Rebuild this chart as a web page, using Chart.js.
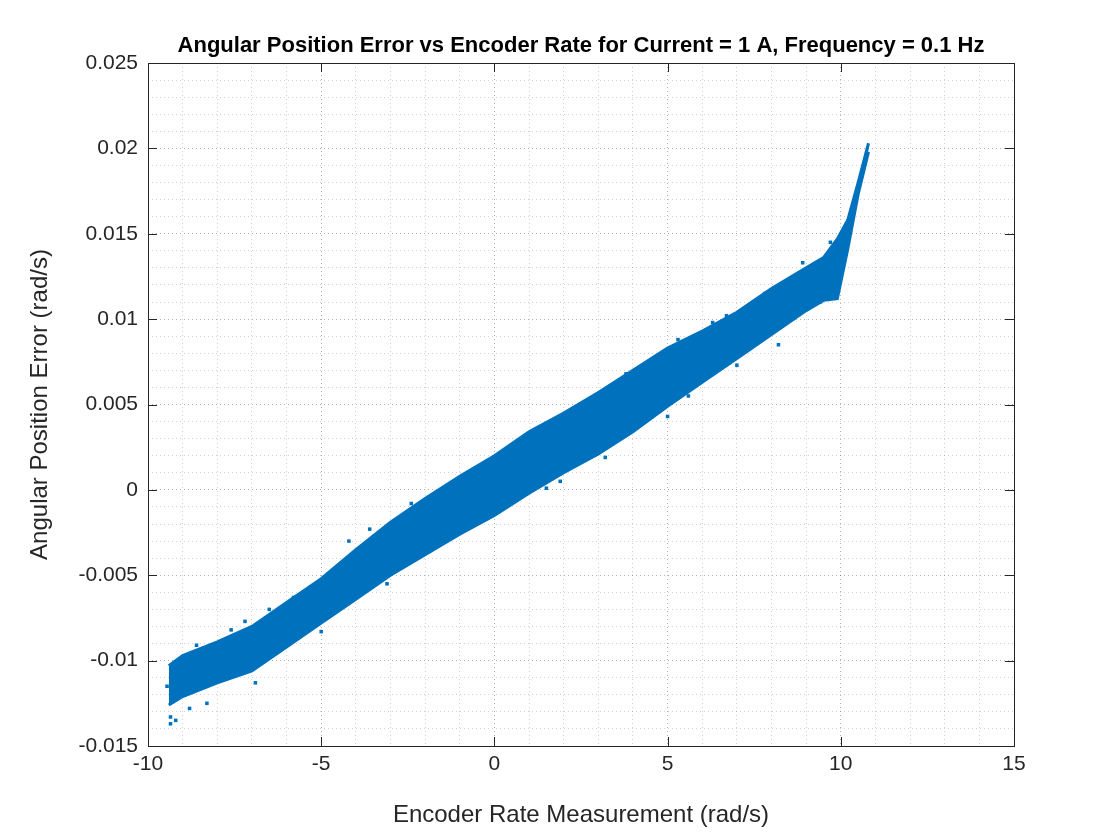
<!DOCTYPE html>
<html><head><meta charset="utf-8">
<script src="https://cdn.jsdelivr.net/npm/chart.js@4"></script>
<style>html,body{margin:0;background:#fff}#w{width:1120px;height:840px}</style>
</head><body><div id="w"><canvas id="c"></canvas></div>
<script>
const bandX = [-9.4,-9,-8,-7,-6,-5,-4,-3,-2,-1,0,1,2,3,4,5,6,7,8,9,9.5,9.9,10.2,10.5,10.8];
const bandUpper = [-0.0103,-0.0097,-0.0089,-0.0080,-0.0066,-0.0052,-0.0035,-0.0019,-0.0005,0.0008,0.0020,0.0034,0.0045,0.0057,0.0070,0.0083,0.0093,0.0104,0.0118,0.0130,0.0136,0.0147,0.0158,0.0180,0.0203];
const bandLower = [-0.0126,-0.0121,-0.0113,-0.0106,-0.0092,-0.0078,-0.0064,-0.0050,-0.0038,-0.0026,-0.0015,-0.0002,0.0010,0.0021,0.0034,0.0049,0.0063,0.0077,0.0091,0.0105,0.0111,0.0112,0.0141,0.0173,0.0198];
const outX = [-9.35,-9.2,-9.35,-8.8,-8.3,-5.0,-1.7,1.5,3.2,5.0,5.6,7.0,8.2,9.4,-6.5,2.5,4.6,8.5,-9.45,-7.6,-4.2,0.4,6.3,9.7,-8.6,-7.2,-5.8,-3.6,-2.4,-0.6,0.9,2.1,3.8,5.3,6.7,7.8,8.9,-6.9,-3.1,1.9];
const outY = [-0.0133,-0.0135,-0.0137,-0.0128,-0.0125,-0.0083,-0.0031,0.0001,0.0019,0.0043,0.0055,0.0073,0.0085,0.0110,-0.0070,0.0050,0.0077,0.0122,-0.0115,-0.0082,-0.0030,0.0021,0.0098,0.0145,-0.0091,-0.0077,-0.0063,-0.0023,-0.0008,0.0012,0.0027,0.0041,0.0068,0.0088,0.0102,0.0115,0.0133,-0.0113,-0.0055,0.0005];
const xTicks = [-10,-5,0,5,10,15];
const yTicks = [-0.015,-0.01,-0.005,0,0.005,0.01,0.015,0.02,0.025];
const titleText = 'Angular Position Error vs Encoder Rate for Current = 1 A, Frequency = 0.1 Hz';
const xLabel = 'Encoder Rate Measurement (rad/s)';
const yLabel = 'Angular Position Error (rad/s)';
const C = '#0072BD';
const pts = (xs, ys) => xs.map((x,i)=>({x, y: ys[i]}));
const isMajX = v => Math.abs(v/5 - Math.round(v/5)) < 1e-6;
const isMajY = v => Math.abs(v/0.005 - Math.round(v/0.005)) < 1e-6;
const fmtY = v => { const r = Math.round(v*1000)/1000; return r===0?'0':String(r); };
const frame = {
  id:'frame',
  afterDraw(ch){
    const {ctx, chartArea:a} = ch;
    ctx.save();
    ctx.strokeStyle='#262626'; ctx.lineWidth=1;
    ctx.strokeRect(a.left+0.5,a.top+0.5,a.right-a.left,a.bottom-a.top);
    const xs=ch.scales.x, ys=ch.scales.y;
    ctx.beginPath();
    xTicks.forEach(v=>{const p=Math.round(xs.getPixelForValue(v))+0.5;
      ctx.moveTo(p,a.bottom);ctx.lineTo(p,a.bottom-9);ctx.moveTo(p,a.top);ctx.lineTo(p,a.top+9);});
    yTicks.forEach(v=>{const p=Math.round(ys.getPixelForValue(v))+0.5;
      ctx.moveTo(a.left,p);ctx.lineTo(a.left+9,p);ctx.moveTo(a.right,p);ctx.lineTo(a.right-9,p);});
    ctx.stroke();
    ctx.fillStyle='#000'; ctx.font='bold 22px "Liberation Sans", Arial';
    ctx.textAlign='center'; ctx.textBaseline='alphabetic';
    ctx.fillText(titleText,(a.left+a.right)/2,52);
    ctx.restore();
  }
};
const F = '"Liberation Sans", Arial';
new Chart(document.getElementById('c'),{
  type:'scatter',
  data:{datasets:[
    {type:'line',data:pts(bandX,bandLower),borderColor:C,borderWidth:3,pointRadius:0,fill:false,tension:0},
    {type:'line',data:pts(bandX,bandUpper),borderColor:C,borderWidth:3,pointRadius:0,backgroundColor:C,fill:'-1',tension:0},
    {data:pts(outX,outY),pointStyle:'rect',pointRadius:2.5,backgroundColor:C,borderColor:C,borderWidth:0}
  ]},
  options:{
    responsive:true,maintainAspectRatio:false,animation:false,
    layout:{padding:{top:63,right:106,left:22,bottom:6}},
    plugins:{legend:{display:false},tooltip:{enabled:false}},
    scales:{
      x:{type:'linear',min:-10,max:15,
        afterFit(s){s.height=88;},
        border:{display:false,dash:[1,3]},
        ticks:{stepSize:1,autoSkip:false,maxRotation:0,color:'#262626',font:{family:F,size:21},
          padding:6,callback:v=>isMajX(v)?String(v):''},
        grid:{drawTicks:false,color:c=>isMajX(c.tick.value)?'rgba(0,0,0,0.3)':'rgba(0,0,0,0.18)',lineWidth:1},
        title:{display:true,text:xLabel,color:'#262626',font:{family:F,size:24},padding:{top:6}}},
      y:{type:'linear',min:-0.015,max:0.025,
        afterFit(s){s.width=126;},
        border:{display:false,dash:[1,3]},
        ticks:{stepSize:0.001,autoSkip:false,color:'#262626',font:{family:F,size:21},
          padding:10,callback:v=>isMajY(v)?fmtY(v):''},
        grid:{drawTicks:false,color:c=>isMajY(c.tick.value)?'rgba(0,0,0,0.3)':'rgba(0,0,0,0.18)',lineWidth:1},
        title:{display:true,text:yLabel,color:'#262626',font:{family:F,size:24},padding:{bottom:2}}}
    }
  },
  plugins:[frame]
});
</script></body></html>
